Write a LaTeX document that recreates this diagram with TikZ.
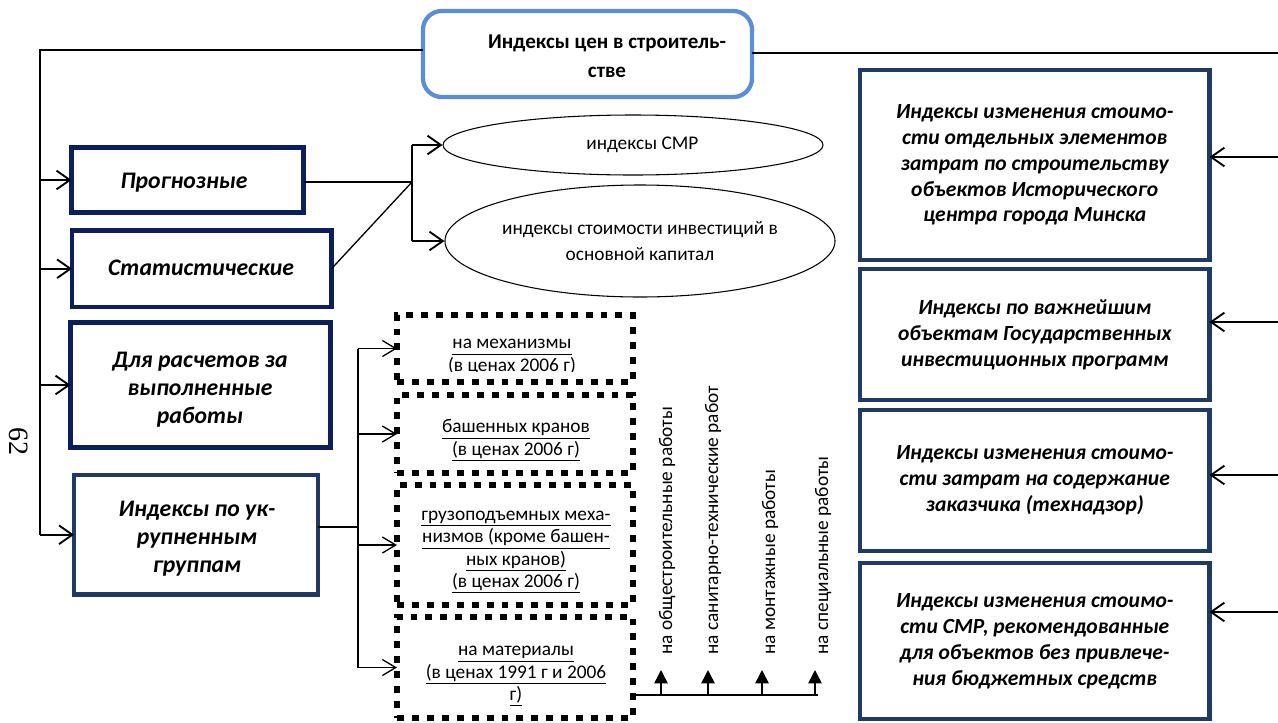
\documentclass[tikz,border=0pt]{standalone}
\usepackage{fontspec}
\setmainfont{Carlito}
\newfontfamily\pnfont{Liberation Serif}
\usetikzlibrary{arrows.meta,shapes.geometric}
\definecolor{navy}{HTML}{0B1F5E}
\definecolor{navyb}{HTML}{1F3A64}
\definecolor{topblue}{HTML}{5B8ED6}
\newcommand\ulx[1]{\underline{#1\vphantom{ру(}}}
\begin{document}
\begin{tikzpicture}[x=0.75pt,y=-0.75pt,
  conn/.style={line width=1.5pt},
  thin/.style={line width=1pt},
  openarr/.style={line width=1.4pt,-{Straight Barb[length=10pt,width=14pt,line width=1.4pt]}},
  smallarr/.style={line width=1pt,-{Straight Barb[length=10pt,width=12pt,line width=1pt]}},
  uparr/.style={line width=1.2pt,-{Triangle[length=10pt,width=10pt]}},
  lbox/.style={draw=navy,line width=3.6pt,rectangle,inner sep=0pt,outer sep=0pt},
  ltext/.style={align=center,inner sep=0pt,font=\fontsize{17.8}{21}\selectfont\bfseries\itshape},
  rbox/.style={draw=navyb,line width=3.6pt,rectangle,inner sep=0pt,outer sep=0pt,align=center,
    font=\fontsize{16.2}{19.4}\selectfont\bfseries\itshape},
  dbox/.style={draw,line width=5.2pt,dash pattern=on 5.2pt off 6pt,rectangle,inner sep=0pt,outer sep=0pt},
  dtext/.style={align=center,inner sep=0pt,font=\fontsize{14.5}{16.75}\selectfont},
  oval/.style={draw,ellipse,line width=0.8pt,inner sep=0pt,align=center,font=\fontsize{14.5}{20}\selectfont},
  vtext/.style={rotate=90,anchor=west,inner sep=0pt,font=\fontsize{14.5}{16}\selectfont}
]
\useasboundingbox (0,0) rectangle (1278,722);

% top box
\node[draw=topblue,line width=3.2pt,rounded corners=14pt,minimum width=246.75pt,minimum height=64.5pt,inner sep=0pt,outer sep=0pt] (top) at (587.5,54) {};
\node[align=center,font=\fontsize{15.8}{22}\selectfont\bfseries] (toptxt) at (607,56) {Индексы цен в строитель-\\стве};

% left boxes
\node[lbox,minimum width=174pt,minimum height=48.75pt] (prog) at (187.5,180) {};
\node[ltext] (progt) at (184,183) {Прогнозные};
\node[lbox,minimum width=194.6pt,minimum height=57.4pt] (stat) at (201.75,268.75) {};
\node[ltext] (statt) at (201,268) {Статистические};
\node[lbox,minimum width=195pt,minimum height=93.75pt] (dlya) at (200.5,385) {};
\node[ltext] (dlyat) at (200,390) {Для расчетов за\\выполненные\\работы};
\node[lbox,draw=navyb,minimum width=183pt,minimum height=89.6pt] (ukr) at (196,534.75) {};
\node[ltext] (ukrt) at (197,538.5) {Индексы по ук-\\рупненным\\группам};

% right boxes
\node[rbox,minimum width=262pt,minimum height=142.5pt] (r1) at (1034.75,165) {Индексы изменения стоимо-\\сти отдельных элементов\\затрат по строительству\\объектов Исторического\\центра города Минска};
\node[rbox,minimum width=262pt,minimum height=98.25pt] (r2) at (1034.75,334.5) {Индексы по важнейшим\\объектам Государственных\\инвестиционных программ};
\node[rbox,minimum width=262pt,minimum height=105.75pt] (r3) at (1034.75,480.5) {Индексы изменения стоимо-\\сти затрат на содержание\\заказчика (технадзор)};
\node[rbox,minimum width=262pt,minimum height=117pt] (r4) at (1034.75,641) {Индексы изменения стоимо-\\сти СМР, рекомендованные\\для объектов без привлече-\\ния бюджетных средств};

% ellipses
\node[oval,minimum width=285pt,minimum height=45pt] (e1) at (633,145) {\hspace*{14pt}индексы СМР};
\node[oval,minimum width=290pt,minimum height=84pt] (e2) at (640,241) {индексы стоимости инвестиций в\\основной капитал};

% dotted boxes
\node[dbox,minimum width=177pt,minimum height=50.25pt] (d1) at (515,348.5) {};
\begin{scope}
\clip (400,300) rectangle (630,371);
\node[dtext] (d1t) at (512,356) {\ulx{на механизмы}\\\ulx{(в ценах 2006 г)}};
\end{scope}
\node[dbox,minimum width=177pt,minimum height=58.5pt] (d2) at (515,434) {};
\node[dtext] (d2t) at (516,440) {\ulx{башенных кранов}\\\ulx{(в ценах 2006 г)}};
\node[dbox,minimum width=177pt,minimum height=90pt] (d3) at (515,545) {};
\node[dtext] (d3t) at (516,550) {\ulx{грузоподъемных меха-}\\\ulx{низмов (кроме башен-}\\\ulx{ных кранов)}\\\ulx{(в ценах 2006 г)}};
\node[dbox,minimum width=177pt,minimum height=75.75pt] (d4) at (515,667.5) {};
\node[dtext] (d4t) at (516,674) {\ulx{на материалы}\\\ulx{(в ценах 1991 г и 2006}\\\ulx{г)}};

% vertical texts
\node[vtext] (v1) at (667,655) {на общестроительные работы};
\begin{scope}
\clip (690,385) rectangle (740,700);
\node[vtext] (v2) at (713,655) {на санитарно-технические работы};
\end{scope}
\node[vtext] (v3) at (770,655) {на монтажные работы};
\node[vtext] (v4) at (823,655) {на специальные работы};

% page number
\node[rotate=-90,inner sep=0pt,font=\pnfont\fontsize{21}{21}\selectfont] (pn) at (19,441) {62};

% coordinates
\coordinate (lt) at (40,50);
\coordinate (rt) at (1278,53);
\coordinate (j1) at (412,182);
\coordinate (j2) at (358,527);
\coordinate (bh) at (818,695);
\coordinate (a1) at (661,670);
\coordinate (a2) at (708,670);
\coordinate (a3) at (762,670);
\coordinate (a4) at (815,670);
\coordinate (q1) at (1278,157);
\coordinate (q2) at (1278,322);
\coordinate (q3) at (1278,475);
\coordinate (q4) at (1278,612);

% main connectors
\draw[conn] (top.west |- lt) -- (lt) -- (lt |- ukr.west);
\draw[conn] (top.east |- rt) -- (rt);
\draw[openarr] (lt |- prog.west) -- (prog.west);
\draw[openarr] (lt |- stat.west) -- (stat.west);
\draw[openarr] (lt |- dlya.west) -- (dlya.west);
\draw[openarr] (lt |- ukr.west) -- (ukr.west);

% prognoz/stat to ellipses
\draw[thin] (prog.east |- j1) -- (j1);
\draw[thin] (stat.east) -- (j1);
\draw[conn] (j1 |- e1.west) -- (j1 |- e2.west);
\draw[openarr] (j1 |- e1.west) -- (e1.west);
\draw[openarr] (j1 |- e2.west) -- (e2.west);

% ukr to dotted boxes
\draw[thin] (ukr.east |- j2) -- (j2);
\draw[thin] (j2 |- d1.west) -- (j2 |- d4.west);
\draw[smallarr] (j2 |- d1.west) -- (d1.west);
\draw[smallarr] (j2 |- d2.west) -- (d2.west);
\draw[smallarr] (j2 |- d3.west) -- (d3.west);
\draw[smallarr] (j2 |- d4.west) -- (d4.west);

% bottom horizontal with up arrows
\draw[conn] (d4.east |- bh) -- (bh);
\draw[uparr] (a1 |- bh) -- (a1);
\draw[uparr] (a2 |- bh) -- (a2);
\draw[uparr] (a3 |- bh) -- (a3);
\draw[uparr] (a4 |- bh) -- (a4);

% right arrows
\draw[openarr] (q1) -- (q1 -| r1.east);
\draw[openarr] (q2) -- (q2 -| r2.east);
\draw[openarr] (q3) -- (q3 -| r3.east);
\draw[openarr] (q4) -- (q4 -| r4.east);
\end{tikzpicture}
\end{document}
